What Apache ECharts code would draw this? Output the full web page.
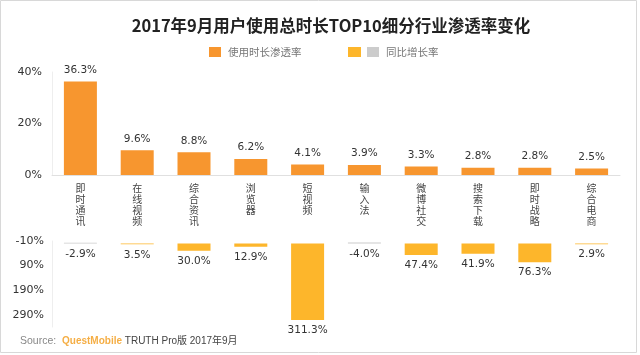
<!DOCTYPE html>
<html><head><meta charset="utf-8">
<script src="https://cdn.jsdelivr.net/npm/echarts@6/dist/echarts.min.js"></script>
<style>html,body{margin:0;padding:0;background:#fff}#c{width:640px;height:355px}</style>
</head><body><div id="c"></div>
<script>
const categories = ['即时通讯','在线视频','综合资讯','浏览器','短视频','输入法','微博社交','搜索下载','即时战略','综合电商'];
const penetration = [36.3, 9.6, 8.8, 6.2, 4.1, 3.9, 3.3, 2.8, 2.8, 2.5];
const growth = [-2.9, 3.5, 30.0, 12.9, 311.3, -4.0, 47.4, 41.9, 76.3, 2.9];
const topTicks = [0, 20, 40];
const bottomTicks = [-10, 90, 190, 290];

const ORANGE = '#F7962F', YELLOW = '#FDB62B', GRAY = '#CCCCCC';
const CJK = '"Noto Sans CJK SC", sans-serif';
const chart = echarts.init(document.getElementById('c'), null, {renderer:'canvas'});
const labelFont = {fontFamily:'"DejaVu Sans", sans-serif', fontSize:10.5, color:'#333'};

chart.setOption({
  animation:false,
  title:{text:'2017年9月用户使用总时长TOP10细分行业渗透率变化', left:326, textAlign:'center', top:12,
    textStyle:{fontSize:16.5, fontWeight:'bold', color:'#222', fontFamily:CJK}},
  legend:{show:false},
  graphic:[
    {type:'rect', shape:{x:0.5,y:0.5,width:636,height:352}, style:{fill:'none', stroke:'#d8d8d8', lineWidth:1}},
    {type:'rect', shape:{x:209,y:47,width:12,height:10}, style:{fill:ORANGE}},
    {type:'text', style:{x:228,y:52,text:'使用时长渗透率', fill:'#777', fontSize:10.5, verticalAlign:'middle', fontFamily:CJK}},
    {type:'rect', shape:{x:348,y:47,width:13,height:10}, style:{fill:YELLOW}},
    {type:'rect', shape:{x:367,y:47,width:12,height:10}, style:{fill:GRAY}},
    {type:'text', style:{x:386,y:52,text:'同比增长率', fill:'#777', fontSize:10.5, verticalAlign:'middle', fontFamily:CJK}},
    {type:'text', style:{x:20,y:341, verticalAlign:'middle',
      text:'{a|Source:  }{b|QuestMobile}{c| TRUTH Pro版 2017年9月}',
      rich:{a:{fill:'#888',fontSize:10.5,fontFamily:'"Liberation Sans", sans-serif'},
            b:{fill:'#F5AE45',fontSize:10,fontWeight:'bold',fontFamily:'"Liberation Sans", sans-serif'},
            c:{fill:'#444',fontSize:10,fontFamily:'"Liberation Sans", "Noto Sans CJK SC", sans-serif'}}}}
  ],
  grid:[
    {left:52, right:20, top:72, height:103},
    {left:52, right:20, top:241, height:86}
  ],
  xAxis:[
    {type:'category', gridIndex:0, data:categories,
      axisLine:{lineStyle:{color:'#e0e0e0'}}, axisTick:{show:false},
      axisLabel:{interval:0, margin:8, color:'#444', fontSize:10, lineHeight:10.8,
        fontFamily:CJK, verticalAlign:'top',
        formatter:v=>v.split('').join('\n')}},
    {type:'category', gridIndex:1, data:categories, show:false}
  ],
  yAxis:[
    {type:'value', gridIndex:0, min:0, max:40, interval:20,
      axisLine:{show:true, lineStyle:{color:'#eeeeee'}}, axisTick:{show:false}, splitLine:{show:false},
      axisLabel:{formatter:'{value}%', color:'#333', fontSize:11, margin:10, fontFamily:'"DejaVu Sans", sans-serif'}},
    {type:'value', gridIndex:1, min:-10, max:340, interval:100, inverse:true,
      axisLine:{show:true, lineStyle:{color:'#eeeeee'}}, axisTick:{show:false}, splitLine:{show:false},
      axisLabel:{showMaxLabel:false, formatter:v=>(bottomTicks.includes(v)? v+'%':''), color:'#333', fontSize:11, margin:8, fontFamily:'"DejaVu Sans", sans-serif'}}
  ],
  series:[
    {type:'bar', xAxisIndex:0, yAxisIndex:0, data:penetration, barWidth:33,
      itemStyle:{color:ORANGE},
      label:{show:true, position:'top', distance:6, formatter:p=>p.value.toFixed(1)+'%', ...labelFont}},
    {type:'bar', xAxisIndex:1, yAxisIndex:1, barWidth:33,
      data:growth.map(v=>({value:v, itemStyle:{color: v<0 ? GRAY : YELLOW}})),
      label:{show:true, position:'bottom', distance:5, formatter:p=>p.value.toFixed(1)+'%', ...labelFont}}
  ]
});
</script></body></html>
